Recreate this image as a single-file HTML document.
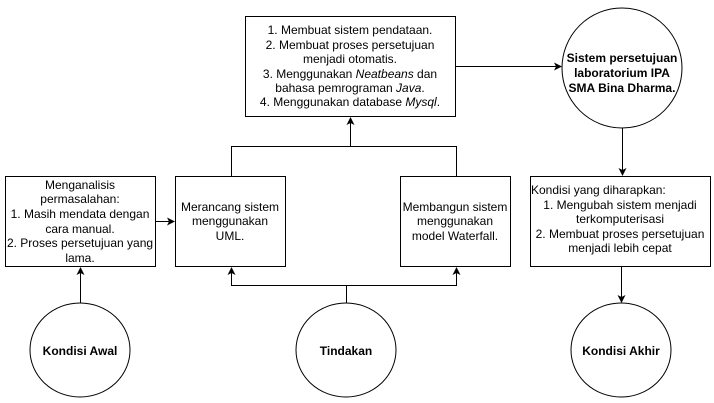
<!DOCTYPE html>
<html><head><style>body{margin:0;background:#fff}svg{display:block}
text{font-family:"Liberation Sans",Arial,sans-serif;font-size:12px;fill:#000}</style></head><body>
<svg width="714" height="403" viewBox="0 0 714 403">
<defs><marker id="a" markerWidth="8" markerHeight="8" refX="7" refY="4" orient="auto" markerUnits="userSpaceOnUse"><path d="M0,0 L8,4 L0,8 L2,4z" fill="#000"/></marker></defs>
<g fill="#fff" stroke="#000" stroke-width="1">
<rect x="245.5" y="16.5" width="210" height="100"/>
<rect x="5.5" y="176.5" width="150" height="90"/>
<rect x="175.5" y="176.5" width="110" height="90"/>
<rect x="400.5" y="176.5" width="110" height="90"/>
<rect x="530.5" y="176.5" width="180" height="90"/>
<ellipse cx="622" cy="68" rx="60" ry="60"/>
<ellipse cx="80" cy="350" rx="50" ry="47"/>
<ellipse cx="346" cy="350" rx="50" ry="47"/>
<ellipse cx="621" cy="350" rx="50" ry="47"/>
</g>
<g stroke="#000" fill="none">
<path d="M80.5 303V268" marker-end="url(#a)"/>
<path d="M346.5 303V285.5H231.5V268" marker-end="url(#a)"/>
<path d="M346.5 285.5H456.5V268" marker-end="url(#a)"/>
<path d="M231.5 176V146.5H456.5V176"/>
<path d="M350.5 146.5V118" marker-end="url(#a)"/>
<path d="M155.5 221.5H174" marker-end="url(#a)"/>
<path d="M455.5 66.5H561" marker-end="url(#a)"/>
<path d="M622.5 128V175" marker-end="url(#a)"/>
<path d="M621.5 266V302" marker-end="url(#a)"/>
</g>
<g text-anchor="middle">
<text x="350" y="34">1. Membuat sistem pendataan.</text>
<text x="350" y="49">2. Membuat proses persetujuan</text>
<text x="350" y="63">menjadi otomatis.</text>
<text x="350" y="78">3. Menggunakan <tspan font-style="italic">Neatbeans</tspan> dan</text>
<text x="350" y="92">bahasa pemrograman <tspan font-style="italic">Java</tspan>.</text>
<text x="350" y="106">4. Menggunakan database <tspan font-style="italic">Mysql</tspan>.</text>
<text x="80" y="189">Menganalisis</text>
<text x="80" y="203">permasalahan:</text>
<text x="80" y="218">1. Masih mendata dengan</text>
<text x="80" y="233">cara manual.</text>
<text x="80" y="247">2. Proses persetujuan yang</text>
<text x="80" y="262">lama.</text>
<text x="230" y="211">Merancang sistem</text>
<text x="230" y="225">menggunakan</text>
<text x="230" y="240">UML.</text>
<text x="455" y="211">Membangun sistem</text>
<text x="455" y="225">menggunakan</text>
<text x="455" y="240">model Waterfall.</text>
<text x="620" y="209">1. Mengubah sistem menjadi</text>
<text x="620" y="223">terkomputerisasi</text>
<text x="620" y="238">2. Membuat proses persetujuan</text>
<text x="620" y="252">menjadi lebih cepat</text>
<g font-weight="bold">
<text x="622" y="62">Sistem persetujuan</text>
<text x="622" y="77">laboratorium IPA</text>
<text x="622" y="92">SMA Bina Dharma.</text>
<text x="80" y="355">Kondisi Awal</text>
<text x="346" y="355">Tindakan</text>
<text x="621" y="355">Kondisi Akhir</text>
</g></g>
<text x="531" y="194">Kondisi yang diharapkan:</text>
</svg></body></html>
